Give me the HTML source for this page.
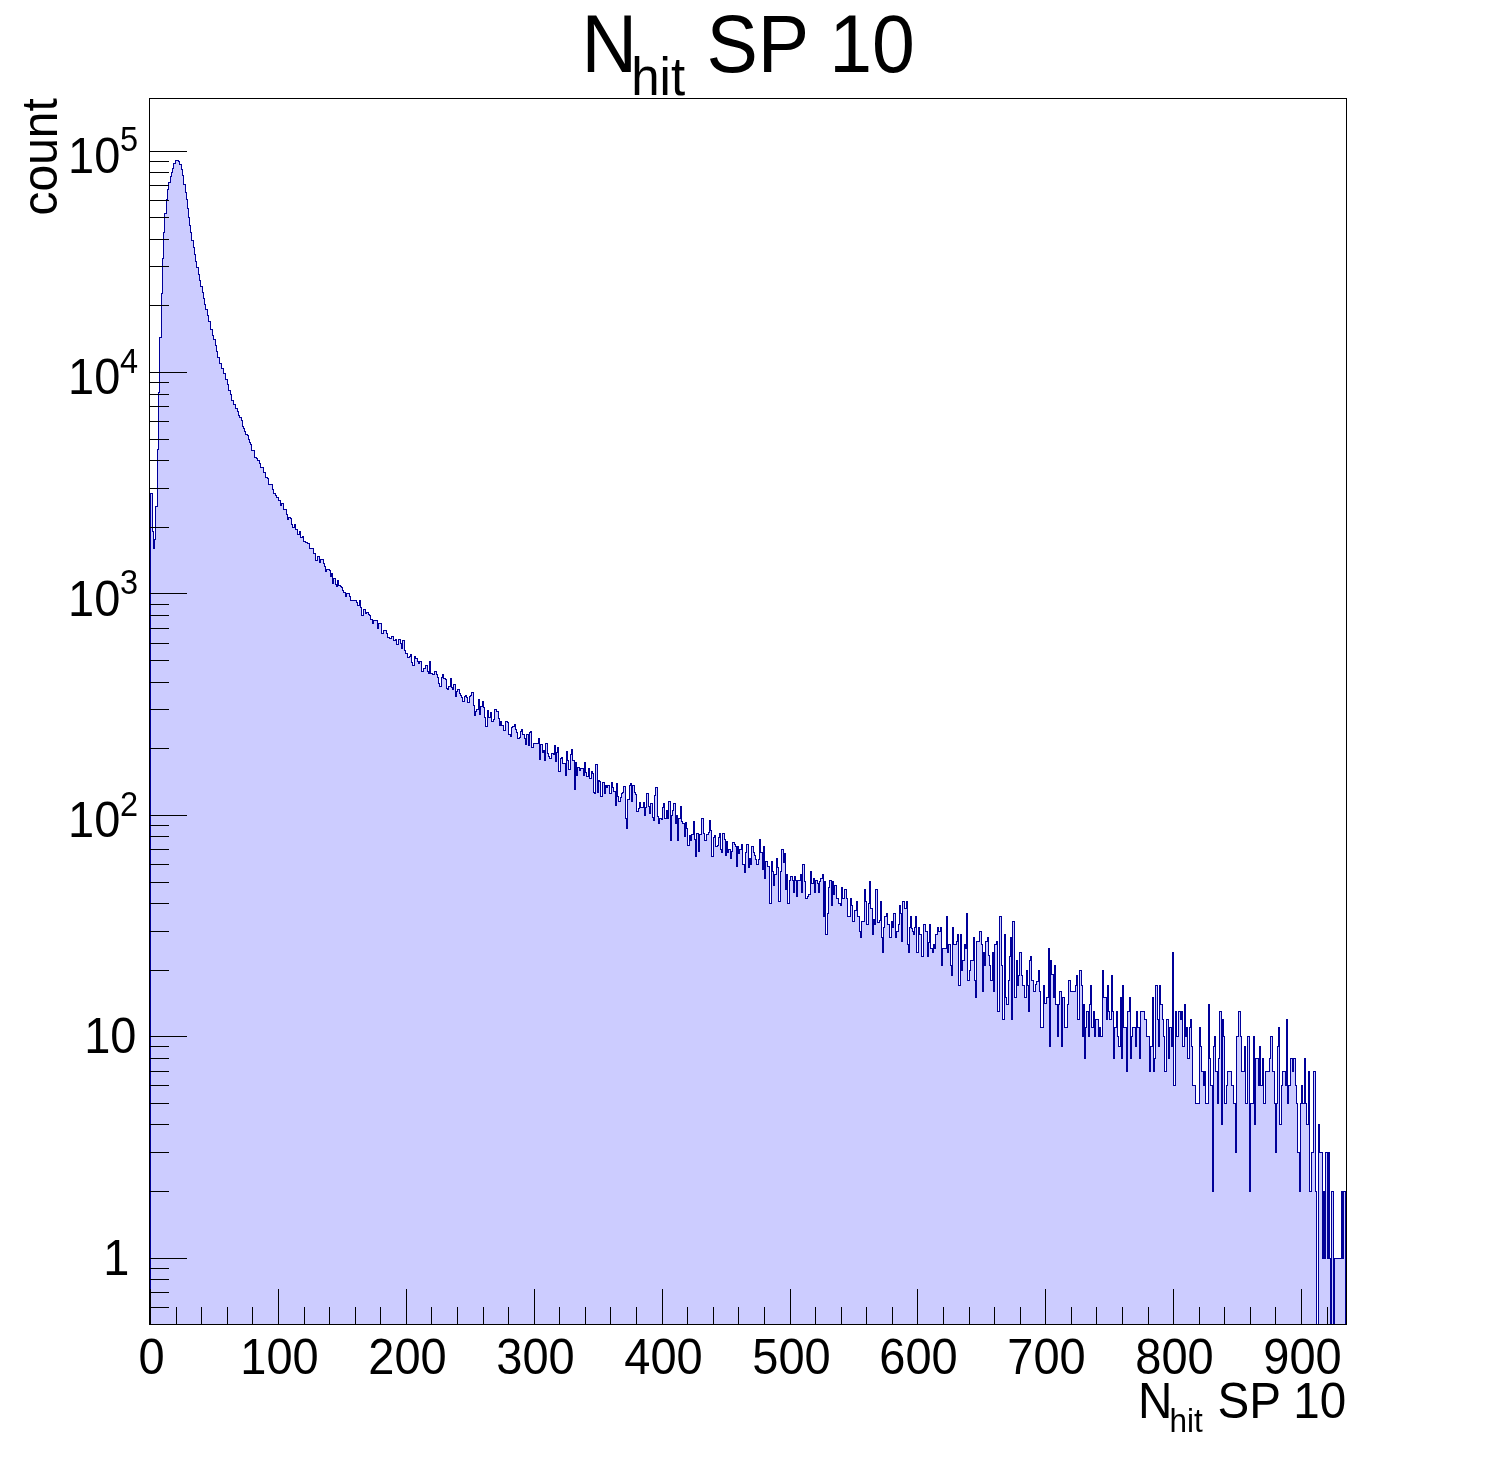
<!DOCTYPE html>
<html><head><meta charset="utf-8"><title>N hit SP 10</title>
<style>html,body{margin:0;padding:0;background:#fff;overflow:hidden}svg{display:block}</style>
</head><body>
<svg width="1496" height="1472" viewBox="0 0 1496 1472">
<rect width="1496" height="1472" fill="#fff"/>
<path d="M150,1325V493H152V531H153V548H154V539H155V506H157V449H158V392H159V337H161V293H162V258H163V232H164V213H166V199H167V189H168V182H170V176H171V172H172V168H173V163H175V160H178V161H179V164H181V169H182V175H183V184H185V192H186V199H187V208H188V217H189V225H190V232H191V240H193V247H194V254H195V261H196V267H198V274H199V280H200V286H202V292H203V298H204V304H205V309H207V315H208V321H210V329H212V335H213V339H215V345H216V351H217V357H219V363H221V368H223V373H225V379H227V384H228V390H230V394H231V400H233V404H235V408H237V411H238V415H239V417H241V420H242V426H243V428H244V431H245V434H247V435H248V439H249V442H250V444H251V450H254V457H256V458H257V460H259V463H260V467H263V472H265V477H267V478H268V484H272V489H273V493H275V495H276V497H278V500H280V505H281V503H283V509H286V514H287V519H288V517H290V518H291V524H292V527H294V524H295V529H297V534H299V531H300V537H302V536H303V541H305V542H307V543H309V548H313V553H315V560H317V556H319V562H320V559H323V563H324V566H325V571H326V569H329V570H330V576H331V573H332V583H333V578H335V584H336V586H337V580H338V585H340V586H341V587H342V590H343V592H345V596H346V593H349V596H350V600H356V602H357V605H359V600H360V607H361V615H363V609H365V613H366V612H368V614H369V615H370V619H372V623H373V620H377V628H378V623H381V633H383V630H386V633H387V637H389V638H391V636H393V640H395V639H396V644H398V639H400V643H401V648H402V640H404V650H405V653H407V657H409V656H410V654H411V662H412V665H414V656H415V658H417V661H418V663H419V661H421V671H423V668H425V665H427V671H428V673H429V661H430V673H432V674H434V671H436V674H437V677H438V683H439V686H441V677H442V674H443V678H445V679H446V688H447V689H448V686H450V678H451V687H452V689H453V684H455V696H456V691H457V689H459V693H460V695H461V697H462V701H464V696H465V695H466V697H467V702H469V696H470V695H471V692H473V705H474V715H475V711H476V709H478V699H479V714H480V706H482V701H483V707H484V717H485V726H487V710H488V717H490V712H491V721H493V719H494V709H496V711H498V718H499V725H500V721H501V725H503V730H505V721H507V722H508V734H510V736H511V727H512V726H514V724H515V729H516V732H517V738H519V737H520V731H521V729H522V734H524V738H525V744H526V734H528V745H529V732H530V731H531V747H533V743H538V738H539V759H540V744H542V752H543V750H544V760H545V743H547V753H548V756H549V758H551V753H553V754H554V745H555V761H556V752H557V747H558V771H560V758H561V757H562V763H565V775H566V751H567V760H568V769H570V754H571V749H572V760H574V789H575V762H576V775H577V767H579V770H580V768H583V775H584V762H585V772H586V776H588V768H589V778H591V771H592V773H593V792H594V793H595V764H597V792H598V780H599V781H600V796H602V782H604V793H605V785H606V787H607V785H609V793H611V782H612V787H613V791H615V805H616V783H617V796H618V801H620V797H621V793H622V792H623V786H625V818H626V828H627V799H629V785H630V783H631V801H632V785H634V792H635V794H636V811H638V808H639V802H640V807H643V802H644V815H645V807H646V793H648V806H649V813H650V803H652V817H653V820H654V795H655V787H657V816H658V823H659V818H661V819H662V807H663V803H664V818H666V810H667V818H668V801H670V840H671V815H672V810H673V803H675V823H676V815H677V840H678V818H680V806H681V821H682V823H684V836H685V822H686V828H687V845H689V835H690V840H691V834H693V821H694V839H695V856H696V833H698V851H699V834H701V818H703V833H704V840H706V834H708V832H709V820H710V830H711V856H713V837H714V835H715V846H717V845H718V837H719V833H720V849H721V852H722V833H724V839H725V855H726V841H727V852H728V849H730V858H731V851H732V842H734V844H735V846H736V866H737V846H738V853H739V849H741V844H742V864H744V872H745V852H746V844H748V867H749V858H750V864H751V846H753V852H754V855H755V859H756V864H758V859H759V839H760V852H762V869H763V846H764V878H765V861H767V866H769V903H771V861H772V871H773V885H774V874H776V858H777V867H778V901H780V871H781V849H783V862H784V853H785V889H786V874H787V903H789V880H790V876H792V880H793V892H794V876H795V880H796V896H797V880H800V874H801V892H802V864H804V881H805V898H807V896H808V894H810V871H811V883H813V878H814V892H815V880H817V883H818V892H819V881H820V878H822V874H823V916H824V881H825V934H827V913H828V887H829V880H831V905H832V881H833V894H834V885H836V898H838V903H840V905H841V887H842V898H844V889H846V898H847V916H850V898H851V905H852V921H854V910H856V901H857V916H859V931H860V937H861V921H864V889H865V901H866V924H868V903H869V881H870V908H872V934H873V919H874V924H875V889H877V922H879V920H880V901H881V937H882V952H883V927H884V916H886V913H887V924H889V937H891V921H892V927H893V913H895V937H896V931H898V924H899V905H900V913H901V941H902V901H904V908H906V901H907V944H908V952H909V927H910V916H911V928H912V931H913V934H914V927H915V916H916V952H918V927H919V934H921V956H923V924H925V931H927V956H928V942H929V924H930V948H932V952H933V944H934V948H935V934H937V927H938V931H940V927H941V965H942V948H946V916H947V952H948V944H950V965H951V975H952V927H953V944H956V941H957V934H958V985H960V934H961V970H962V960H964V944H965V948H966V913H967V980H969V970H970V960H973V937H974V980H975V997H976V941H979V931H981V944H982V991H983V952H984V965H985V941H987V937H988V955H989V965H990V980H992V952H993V991H994V944H996V941H997V1011H999V916H1001V965H1002V1019H1004V934H1005V997H1006V1004H1008V980H1009V956H1010V937H1011V1019H1012V921H1014V997H1016V960H1017V985H1018V975H1019V952H1021V975H1022V985H1024V997H1026V970H1027V985H1028V1011H1029V960H1030V956H1031V980H1033V991H1035V984H1036V981H1038V970H1039V991H1040V1027H1043V985H1044V1003H1046V997H1048V948H1049V1046H1050V960H1051V974H1053V997H1054V965H1055V1004H1057V1036H1058V1004H1059V991H1061V1046H1062V997H1064V1027H1067V1004H1068V980H1070V991H1075V985H1076V975H1077V1019H1079V970H1081V985H1082V1036H1083V1004H1084V1058H1085V1027H1086V1011H1088V1036H1089V1004H1090V985H1091V1027H1093V1011H1094V1036H1095V1019H1098V1036H1099V1027H1100V1036H1102V970H1103V997H1106V1019H1107V985H1108V1011H1109V1019H1111V975H1112V1011H1113V1058H1114V1027H1116V1011H1117V1036H1118V1046H1120V997H1121V1058H1122V985H1123V1027H1126V1071H1127V1011H1129V997H1130V1058H1131V1036H1132V1027H1135V1046H1136V1011H1137V1027H1139V1058H1140V1011H1144V1019H1146V1036H1149V1071H1150V1046H1152V997H1153V1071H1154V1058H1155V985H1157V1019H1158V1046H1159V985H1160V1004H1162V1019H1163V1036H1164V1071H1166V1019H1168V1058H1169V1027H1171V1046H1172V952H1173V1085H1175V1011H1176V1036H1178V1011H1180V1019H1181V1011H1182V1046H1184V1004H1185V1036H1186V1027H1187V1058H1189V1027H1190V1019H1191V1046H1192V1085H1195V1103H1199V1027H1200V1046H1201V1071H1203V1085H1204V1071H1205V1103H1208V1004H1209V1058H1210V1085H1212V1191H1213V1046H1214V1036H1215V1071H1217V1103H1218V1058H1219V1011H1221V1124H1222V1019H1223V1036H1224V1103H1226V1085H1227V1071H1231V1085H1233V1103H1235V1152H1236V1036H1238V1011H1240V1036H1241V1071H1244V1046H1245V1103H1247V1036H1249V1191H1250V1103H1253V1036H1254V1124H1255V1058H1258V1085H1259V1046H1260V1085H1262V1058H1263V1103H1265V1071H1269V1058H1270V1036H1272V1071H1274V1103H1275V1152H1276V1103H1277V1046H1278V1027H1279V1124H1281V1085H1282V1071H1285V1085H1286V1019H1287V1103H1288V1085H1290V1058H1292V1071H1293V1058H1295V1085H1296V1103H1297V1152H1299V1191H1300V1103H1301V1085H1302V1103H1304V1058H1305V1103H1306V1124H1308V1071H1309V1191H1311V1152H1313V1071H1315V1191H1316V1324H1318V1124H1319V1152H1322V1258H1323V1191H1324V1258H1325V1152H1327V1258H1328V1152H1329V1258H1330V1324H1331V1191H1333V1324H1334V1258H1341V1191H1342V1258H1343V1191H1346V1325Z" fill="#ccccff" stroke="none" shape-rendering="crispEdges"/>
<path d="M150.5,1324.5V493.5H152.5V531.5H153.5V548.5H154.5V539.5H155.5V506.5H157.5V449.5H158.5V392.5H159.5V337.5H161.5V293.5H162.5V258.5H163.5V232.5H164.5V213.5H166.5V199.5H167.5V189.5H168.5V182.5H170.5V176.5H171.5V172.5H172.5V168.5H173.5V163.5H175.5V160.5H178.5V161.5H179.5V164.5H181.5V169.5H182.5V175.5H183.5V184.5H185.5V192.5H186.5V199.5H187.5V208.5H188.5V217.5H189.5V225.5H190.5V232.5H191.5V240.5H193.5V247.5H194.5V254.5H195.5V261.5H196.5V267.5H198.5V274.5H199.5V280.5H200.5V286.5H202.5V292.5H203.5V298.5H204.5V304.5H205.5V309.5H207.5V315.5H208.5V321.5H210.5V329.5H212.5V335.5H213.5V339.5H215.5V345.5H216.5V351.5H217.5V357.5H219.5V363.5H221.5V368.5H223.5V373.5H225.5V379.5H227.5V384.5H228.5V390.5H230.5V394.5H231.5V400.5H233.5V404.5H235.5V408.5H237.5V411.5H238.5V415.5H239.5V417.5H241.5V420.5H242.5V426.5H243.5V428.5H244.5V431.5H245.5V434.5H247.5V435.5H248.5V439.5H249.5V442.5H250.5V444.5H251.5V450.5H254.5V457.5H256.5V458.5H257.5V460.5H259.5V463.5H260.5V467.5H263.5V472.5H265.5V477.5H267.5V478.5H268.5V484.5H272.5V489.5H273.5V493.5H275.5V495.5H276.5V497.5H278.5V500.5H280.5V505.5H281.5V503.5H283.5V509.5H286.5V514.5H287.5V519.5H288.5V517.5H290.5V518.5H291.5V524.5H292.5V527.5H294.5V524.5H295.5V529.5H297.5V534.5H299.5V531.5H300.5V537.5H302.5V536.5H303.5V541.5H305.5V542.5H307.5V543.5H309.5V548.5H313.5V553.5H315.5V560.5H317.5V556.5H319.5V562.5H320.5V559.5H323.5V563.5H324.5V566.5H325.5V571.5H326.5V569.5H329.5V570.5H330.5V576.5H331.5V573.5H332.5V583.5H333.5V578.5H335.5V584.5H336.5V586.5H337.5V580.5H338.5V585.5H340.5V586.5H341.5V587.5H342.5V590.5H343.5V592.5H345.5V596.5H346.5V593.5H349.5V596.5H350.5V600.5H356.5V602.5H357.5V605.5H359.5V600.5H360.5V607.5H361.5V615.5H363.5V609.5H365.5V613.5H366.5V612.5H368.5V614.5H369.5V615.5H370.5V619.5H372.5V623.5H373.5V620.5H377.5V628.5H378.5V623.5H381.5V633.5H383.5V630.5H386.5V633.5H387.5V637.5H389.5V638.5H391.5V636.5H393.5V640.5H395.5V639.5H396.5V644.5H398.5V639.5H400.5V643.5H401.5V648.5H402.5V640.5H404.5V650.5H405.5V653.5H407.5V657.5H409.5V656.5H410.5V654.5H411.5V662.5H412.5V665.5H414.5V656.5H415.5V658.5H417.5V661.5H418.5V663.5H419.5V661.5H421.5V671.5H423.5V668.5H425.5V665.5H427.5V671.5H428.5V673.5H429.5V661.5H430.5V673.5H432.5V674.5H434.5V671.5H436.5V674.5H437.5V677.5H438.5V683.5H439.5V686.5H441.5V677.5H442.5V674.5H443.5V678.5H445.5V679.5H446.5V688.5H447.5V689.5H448.5V686.5H450.5V678.5H451.5V687.5H452.5V689.5H453.5V684.5H455.5V696.5H456.5V691.5H457.5V689.5H459.5V693.5H460.5V695.5H461.5V697.5H462.5V701.5H464.5V696.5H465.5V695.5H466.5V697.5H467.5V702.5H469.5V696.5H470.5V695.5H471.5V692.5H473.5V705.5H474.5V715.5H475.5V711.5H476.5V709.5H478.5V699.5H479.5V714.5H480.5V706.5H482.5V701.5H483.5V707.5H484.5V717.5H485.5V726.5H487.5V710.5H488.5V717.5H490.5V712.5H491.5V721.5H493.5V719.5H494.5V709.5H496.5V711.5H498.5V718.5H499.5V725.5H500.5V721.5H501.5V725.5H503.5V730.5H505.5V721.5H507.5V722.5H508.5V734.5H510.5V736.5H511.5V727.5H512.5V726.5H514.5V724.5H515.5V729.5H516.5V732.5H517.5V738.5H519.5V737.5H520.5V731.5H521.5V729.5H522.5V734.5H524.5V738.5H525.5V744.5H526.5V734.5H528.5V745.5H529.5V732.5H530.5V731.5H531.5V747.5H533.5V743.5H538.5V738.5H539.5V759.5H540.5V744.5H542.5V752.5H543.5V750.5H544.5V760.5H545.5V743.5H547.5V753.5H548.5V756.5H549.5V758.5H551.5V753.5H553.5V754.5H554.5V745.5H555.5V761.5H556.5V752.5H557.5V747.5H558.5V771.5H560.5V758.5H561.5V757.5H562.5V763.5H565.5V775.5H566.5V751.5H567.5V760.5H568.5V769.5H570.5V754.5H571.5V749.5H572.5V760.5H574.5V789.5H575.5V762.5H576.5V775.5H577.5V767.5H579.5V770.5H580.5V768.5H583.5V775.5H584.5V762.5H585.5V772.5H586.5V776.5H588.5V768.5H589.5V778.5H591.5V771.5H592.5V773.5H593.5V792.5H594.5V793.5H595.5V764.5H597.5V792.5H598.5V780.5H599.5V781.5H600.5V796.5H602.5V782.5H604.5V793.5H605.5V785.5H606.5V787.5H607.5V785.5H609.5V793.5H611.5V782.5H612.5V787.5H613.5V791.5H615.5V805.5H616.5V783.5H617.5V796.5H618.5V801.5H620.5V797.5H621.5V793.5H622.5V792.5H623.5V786.5H625.5V818.5H626.5V828.5H627.5V799.5H629.5V785.5H630.5V783.5H631.5V801.5H632.5V785.5H634.5V792.5H635.5V794.5H636.5V811.5H638.5V808.5H639.5V802.5H640.5V807.5H643.5V802.5H644.5V815.5H645.5V807.5H646.5V793.5H648.5V806.5H649.5V813.5H650.5V803.5H652.5V817.5H653.5V820.5H654.5V795.5H655.5V787.5H657.5V816.5H658.5V823.5H659.5V818.5H661.5V819.5H662.5V807.5H663.5V803.5H664.5V818.5H666.5V810.5H667.5V818.5H668.5V801.5H670.5V840.5H671.5V815.5H672.5V810.5H673.5V803.5H675.5V823.5H676.5V815.5H677.5V840.5H678.5V818.5H680.5V806.5H681.5V821.5H682.5V823.5H684.5V836.5H685.5V822.5H686.5V828.5H687.5V845.5H689.5V835.5H690.5V840.5H691.5V834.5H693.5V821.5H694.5V839.5H695.5V856.5H696.5V833.5H698.5V851.5H699.5V834.5H701.5V818.5H703.5V833.5H704.5V840.5H706.5V834.5H708.5V832.5H709.5V820.5H710.5V830.5H711.5V856.5H713.5V837.5H714.5V835.5H715.5V846.5H717.5V845.5H718.5V837.5H719.5V833.5H720.5V849.5H721.5V852.5H722.5V833.5H724.5V839.5H725.5V855.5H726.5V841.5H727.5V852.5H728.5V849.5H730.5V858.5H731.5V851.5H732.5V842.5H734.5V844.5H735.5V846.5H736.5V866.5H737.5V846.5H738.5V853.5H739.5V849.5H741.5V844.5H742.5V864.5H744.5V872.5H745.5V852.5H746.5V844.5H748.5V867.5H749.5V858.5H750.5V864.5H751.5V846.5H753.5V852.5H754.5V855.5H755.5V859.5H756.5V864.5H758.5V859.5H759.5V839.5H760.5V852.5H762.5V869.5H763.5V846.5H764.5V878.5H765.5V861.5H767.5V866.5H769.5V903.5H771.5V861.5H772.5V871.5H773.5V885.5H774.5V874.5H776.5V858.5H777.5V867.5H778.5V901.5H780.5V871.5H781.5V849.5H783.5V862.5H784.5V853.5H785.5V889.5H786.5V874.5H787.5V903.5H789.5V880.5H790.5V876.5H792.5V880.5H793.5V892.5H794.5V876.5H795.5V880.5H796.5V896.5H797.5V880.5H800.5V874.5H801.5V892.5H802.5V864.5H804.5V881.5H805.5V898.5H807.5V896.5H808.5V894.5H810.5V871.5H811.5V883.5H813.5V878.5H814.5V892.5H815.5V880.5H817.5V883.5H818.5V892.5H819.5V881.5H820.5V878.5H822.5V874.5H823.5V916.5H824.5V881.5H825.5V934.5H827.5V913.5H828.5V887.5H829.5V880.5H831.5V905.5H832.5V881.5H833.5V894.5H834.5V885.5H836.5V898.5H838.5V903.5H840.5V905.5H841.5V887.5H842.5V898.5H844.5V889.5H846.5V898.5H847.5V916.5H850.5V898.5H851.5V905.5H852.5V921.5H854.5V910.5H856.5V901.5H857.5V916.5H859.5V931.5H860.5V937.5H861.5V921.5H864.5V889.5H865.5V901.5H866.5V924.5H868.5V903.5H869.5V881.5H870.5V908.5H872.5V934.5H873.5V919.5H874.5V924.5H875.5V889.5H877.5V922.5H879.5V920.5H880.5V901.5H881.5V937.5H882.5V952.5H883.5V927.5H884.5V916.5H886.5V913.5H887.5V924.5H889.5V937.5H891.5V921.5H892.5V927.5H893.5V913.5H895.5V937.5H896.5V931.5H898.5V924.5H899.5V905.5H900.5V913.5H901.5V941.5H902.5V901.5H904.5V908.5H906.5V901.5H907.5V944.5H908.5V952.5H909.5V927.5H910.5V916.5H911.5V928.5H912.5V931.5H913.5V934.5H914.5V927.5H915.5V916.5H916.5V952.5H918.5V927.5H919.5V934.5H921.5V956.5H923.5V924.5H925.5V931.5H927.5V956.5H928.5V942.5H929.5V924.5H930.5V948.5H932.5V952.5H933.5V944.5H934.5V948.5H935.5V934.5H937.5V927.5H938.5V931.5H940.5V927.5H941.5V965.5H942.5V948.5H946.5V916.5H947.5V952.5H948.5V944.5H950.5V965.5H951.5V975.5H952.5V927.5H953.5V944.5H956.5V941.5H957.5V934.5H958.5V985.5H960.5V934.5H961.5V970.5H962.5V960.5H964.5V944.5H965.5V948.5H966.5V913.5H967.5V980.5H969.5V970.5H970.5V960.5H973.5V937.5H974.5V980.5H975.5V997.5H976.5V941.5H979.5V931.5H981.5V944.5H982.5V991.5H983.5V952.5H984.5V965.5H985.5V941.5H987.5V937.5H988.5V955.5H989.5V965.5H990.5V980.5H992.5V952.5H993.5V991.5H994.5V944.5H996.5V941.5H997.5V1011.5H999.5V916.5H1001.5V965.5H1002.5V1019.5H1004.5V934.5H1005.5V997.5H1006.5V1004.5H1008.5V980.5H1009.5V956.5H1010.5V937.5H1011.5V1019.5H1012.5V921.5H1014.5V997.5H1016.5V960.5H1017.5V985.5H1018.5V975.5H1019.5V952.5H1021.5V975.5H1022.5V985.5H1024.5V997.5H1026.5V970.5H1027.5V985.5H1028.5V1011.5H1029.5V960.5H1030.5V956.5H1031.5V980.5H1033.5V991.5H1035.5V984.5H1036.5V981.5H1038.5V970.5H1039.5V991.5H1040.5V1027.5H1043.5V985.5H1044.5V1003.5H1046.5V997.5H1048.5V948.5H1049.5V1046.5H1050.5V960.5H1051.5V974.5H1053.5V997.5H1054.5V965.5H1055.5V1004.5H1057.5V1036.5H1058.5V1004.5H1059.5V991.5H1061.5V1046.5H1062.5V997.5H1064.5V1027.5H1067.5V1004.5H1068.5V980.5H1070.5V991.5H1075.5V985.5H1076.5V975.5H1077.5V1019.5H1079.5V970.5H1081.5V985.5H1082.5V1036.5H1083.5V1004.5H1084.5V1058.5H1085.5V1027.5H1086.5V1011.5H1088.5V1036.5H1089.5V1004.5H1090.5V985.5H1091.5V1027.5H1093.5V1011.5H1094.5V1036.5H1095.5V1019.5H1098.5V1036.5H1099.5V1027.5H1100.5V1036.5H1102.5V970.5H1103.5V997.5H1106.5V1019.5H1107.5V985.5H1108.5V1011.5H1109.5V1019.5H1111.5V975.5H1112.5V1011.5H1113.5V1058.5H1114.5V1027.5H1116.5V1011.5H1117.5V1036.5H1118.5V1046.5H1120.5V997.5H1121.5V1058.5H1122.5V985.5H1123.5V1027.5H1126.5V1071.5H1127.5V1011.5H1129.5V997.5H1130.5V1058.5H1131.5V1036.5H1132.5V1027.5H1135.5V1046.5H1136.5V1011.5H1137.5V1027.5H1139.5V1058.5H1140.5V1011.5H1144.5V1019.5H1146.5V1036.5H1149.5V1071.5H1150.5V1046.5H1152.5V997.5H1153.5V1071.5H1154.5V1058.5H1155.5V985.5H1157.5V1019.5H1158.5V1046.5H1159.5V985.5H1160.5V1004.5H1162.5V1019.5H1163.5V1036.5H1164.5V1071.5H1166.5V1019.5H1168.5V1058.5H1169.5V1027.5H1171.5V1046.5H1172.5V952.5H1173.5V1085.5H1175.5V1011.5H1176.5V1036.5H1178.5V1011.5H1180.5V1019.5H1181.5V1011.5H1182.5V1046.5H1184.5V1004.5H1185.5V1036.5H1186.5V1027.5H1187.5V1058.5H1189.5V1027.5H1190.5V1019.5H1191.5V1046.5H1192.5V1085.5H1195.5V1103.5H1199.5V1027.5H1200.5V1046.5H1201.5V1071.5H1203.5V1085.5H1204.5V1071.5H1205.5V1103.5H1208.5V1004.5H1209.5V1058.5H1210.5V1085.5H1212.5V1191.5H1213.5V1046.5H1214.5V1036.5H1215.5V1071.5H1217.5V1103.5H1218.5V1058.5H1219.5V1011.5H1221.5V1124.5H1222.5V1019.5H1223.5V1036.5H1224.5V1103.5H1226.5V1085.5H1227.5V1071.5H1231.5V1085.5H1233.5V1103.5H1235.5V1152.5H1236.5V1036.5H1238.5V1011.5H1240.5V1036.5H1241.5V1071.5H1244.5V1046.5H1245.5V1103.5H1247.5V1036.5H1249.5V1191.5H1250.5V1103.5H1253.5V1036.5H1254.5V1124.5H1255.5V1058.5H1258.5V1085.5H1259.5V1046.5H1260.5V1085.5H1262.5V1058.5H1263.5V1103.5H1265.5V1071.5H1269.5V1058.5H1270.5V1036.5H1272.5V1071.5H1274.5V1103.5H1275.5V1152.5H1276.5V1103.5H1277.5V1046.5H1278.5V1027.5H1279.5V1124.5H1281.5V1085.5H1282.5V1071.5H1285.5V1085.5H1286.5V1019.5H1287.5V1103.5H1288.5V1085.5H1290.5V1058.5H1292.5V1071.5H1293.5V1058.5H1295.5V1085.5H1296.5V1103.5H1297.5V1152.5H1299.5V1191.5H1300.5V1103.5H1301.5V1085.5H1302.5V1103.5H1304.5V1058.5H1305.5V1103.5H1306.5V1124.5H1308.5V1071.5H1309.5V1191.5H1311.5V1152.5H1313.5V1071.5H1315.5V1191.5H1316.5V1324.5H1318.5V1124.5H1319.5V1152.5H1322.5V1258.5H1323.5V1191.5H1324.5V1258.5H1325.5V1152.5H1327.5V1258.5H1328.5V1152.5H1329.5V1258.5H1330.5V1324.5H1331.5V1191.5H1333.5V1324.5H1334.5V1258.5H1341.5V1191.5H1342.5V1258.5H1343.5V1191.5H1345.5V1324.5" fill="none" stroke="#000099" stroke-width="1" shape-rendering="crispEdges"/>
<rect x="149.5" y="98.5" width="1197" height="1226" fill="none" stroke="#000" stroke-width="1" shape-rendering="crispEdges"/>
<path d="M149,1258.5H187M149,1036.5H187M149,815.5H187M149,593.5H187M149,372.5H187M149,151.5H187M149,1307.5H169M149,1292.5H169M149,1279.5H169M149,1268.5H169M149,1191.5H169M149,1152.5H169M149,1124.5H169M149,1103.5H169M149,1085.5H169M149,1071.5H169M149,1058.5H169M149,1046.5H169M149,970.5H169M149,931.5H169M149,903.5H169M149,882.5H169M149,864.5H169M149,849.5H169M149,836.5H169M149,825.5H169M149,748.5H169M149,709.5H169M149,682.5H169M149,660.5H169M149,643.5H169M149,628.5H169M149,615.5H169M149,604.5H169M149,527.5H169M149,488.5H169M149,460.5H169M149,439.5H169M149,421.5H169M149,406.5H169M149,394.5H169M149,382.5H169M149,305.5H169M149,266.5H169M149,239.5H169M149,217.5H169M149,200.5H169M149,185.5H169M149,172.5H169M149,161.5H169M150.5,1325V1289M176.5,1325V1307M201.5,1325V1307M227.5,1325V1307M252.5,1325V1307M278.5,1325V1289M304.5,1325V1307M329.5,1325V1307M355.5,1325V1307M380.5,1325V1307M406.5,1325V1289M431.5,1325V1307M457.5,1325V1307M483.5,1325V1307M508.5,1325V1307M534.5,1325V1289M559.5,1325V1307M585.5,1325V1307M610.5,1325V1307M636.5,1325V1307M662.5,1325V1289M687.5,1325V1307M713.5,1325V1307M738.5,1325V1307M764.5,1325V1307M790.5,1325V1289M815.5,1325V1307M841.5,1325V1307M866.5,1325V1307M892.5,1325V1307M917.5,1325V1289M943.5,1325V1307M969.5,1325V1307M994.5,1325V1307M1020.5,1325V1307M1045.5,1325V1289M1071.5,1325V1307M1096.5,1325V1307M1122.5,1325V1307M1148.5,1325V1307M1173.5,1325V1289M1199.5,1325V1307M1224.5,1325V1307M1250.5,1325V1307M1275.5,1325V1307M1301.5,1325V1289M1327.5,1325V1307" stroke="#000" stroke-width="1" fill="none" shape-rendering="crispEdges"/>
<g font-family="'Liberation Sans', Arial, Helvetica, sans-serif" fill="#000" style="filter:grayscale(1)">
<text transform="translate(581.5,72.0) scale(1,1.062)" font-size="77" text-anchor="start">N</text>
<text transform="translate(631.2,95.0) scale(1,1.04)" font-size="51" text-anchor="start">hit</text>
<text transform="translate(706.5,72.3) scale(1,1.062)" font-size="77" text-anchor="start">SP 10</text>
<text transform="translate(1138.0,1418.0) scale(1,1.04)" font-size="47.6" text-anchor="start">N</text>
<text transform="translate(1169.5,1432.0) scale(1,1.04)" font-size="31.5" text-anchor="start">hit</text>
<text transform="translate(1217.5,1418.0) scale(1,1.04)" font-size="47.6" text-anchor="start">SP 10</text>
<text transform="translate(57,215.5) rotate(-90) scale(1,1.04)" font-size="48">count</text>
<text transform="translate(151.5,1373.6) scale(1,1.065)" font-size="47" text-anchor="middle">0</text>
<text transform="translate(279.5,1373.6) scale(1,1.065)" font-size="47" text-anchor="middle">100</text>
<text transform="translate(407.5,1373.6) scale(1,1.065)" font-size="47" text-anchor="middle">200</text>
<text transform="translate(535.5,1373.6) scale(1,1.065)" font-size="47" text-anchor="middle">300</text>
<text transform="translate(663.5,1373.6) scale(1,1.065)" font-size="47" text-anchor="middle">400</text>
<text transform="translate(791.5,1373.6) scale(1,1.065)" font-size="47" text-anchor="middle">500</text>
<text transform="translate(918.5,1373.6) scale(1,1.065)" font-size="47" text-anchor="middle">600</text>
<text transform="translate(1046.5,1373.6) scale(1,1.065)" font-size="47" text-anchor="middle">700</text>
<text transform="translate(1174.5,1373.6) scale(1,1.065)" font-size="47" text-anchor="middle">800</text>
<text transform="translate(1302.5,1373.6) scale(1,1.065)" font-size="47" text-anchor="middle">900</text>
<text transform="translate(120.4,837.0) scale(1,1.055)" font-size="47" text-anchor="end">10</text>
<text transform="translate(120.0,815.6) scale(1,1.06)" font-size="32.5" text-anchor="start">2</text>
<text transform="translate(120.4,615.6) scale(1,1.055)" font-size="47" text-anchor="end">10</text>
<text transform="translate(120.0,594.2) scale(1,1.06)" font-size="32.5" text-anchor="start">3</text>
<text transform="translate(120.4,394.2) scale(1,1.055)" font-size="47" text-anchor="end">10</text>
<text transform="translate(120.0,372.8) scale(1,1.06)" font-size="32.5" text-anchor="start">4</text>
<text transform="translate(120.4,172.8) scale(1,1.055)" font-size="47" text-anchor="end">10</text>
<text transform="translate(120.0,151.4) scale(1,1.06)" font-size="32.5" text-anchor="start">5</text>
<text transform="translate(136.5,1053.4) scale(1,1.055)" font-size="47" text-anchor="end">10</text>
<text transform="translate(129.5,1275.0) scale(1,1.055)" font-size="47" text-anchor="end">1</text>
</g>
</svg>
</body></html>
